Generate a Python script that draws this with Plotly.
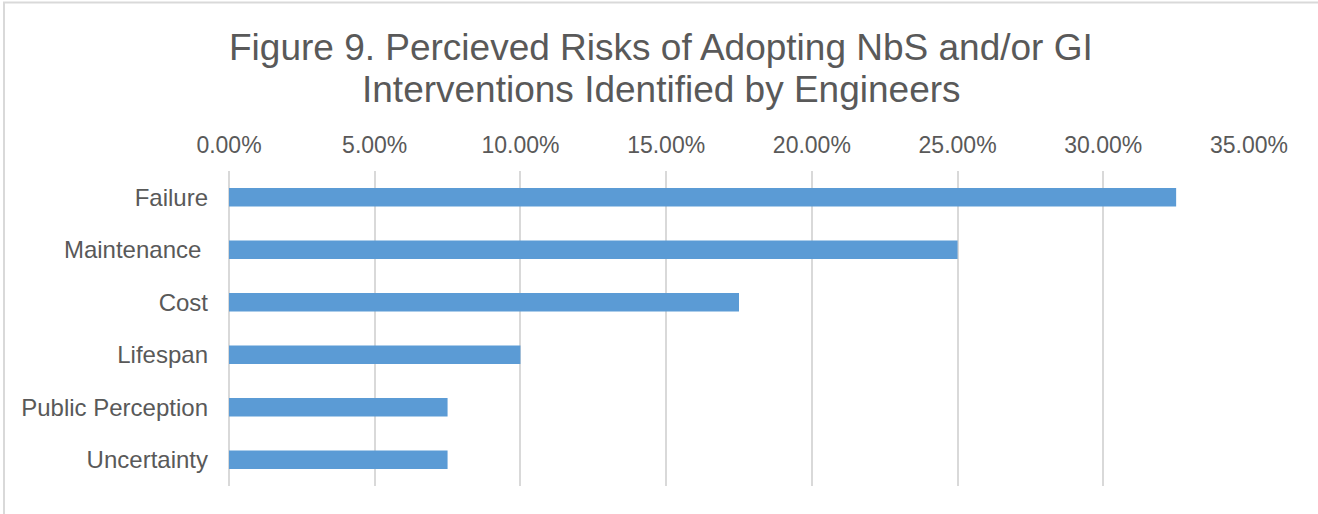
import plotly.graph_objects as go

# Risk categories, top to bottom, and share of engineers naming each
categories = ["Failure", "Maintenance\u00a0", "Cost", "Lifespan", "Public Perception", "Uncertainty"]
shares = [0.325, 0.25, 0.175, 0.10, 0.075, 0.075]
tick_values = [0.0, 0.05, 0.10, 0.15, 0.20, 0.25, 0.30, 0.35]
title_lines = [
    "Figure 9. Percieved Risks of Adopting NbS and/or GI",
    "Interventions Identified by Engineers",
]

W, H = 1318, 514
ML, MR, MT, MB = 229, 69, 171, 28
PW, PH = W - ML - MR, H - MT - MB

def px_x(p):
    return (p - ML) / PW

def px_y(p):
    return (H - MB - p) / PH

TEXT = "#595959"
GRID = "#D9D9D9"
BAR = "#5B9BD5"

fig = go.Figure(
    go.Bar(
        x=shares,
        y=categories,
        orientation="h",
        marker=dict(color=BAR, line=dict(width=0)),
        hoverinfo="x+y",
    )
)

# Two-line heading, each line placed on its own for tighter leading
title_y = [47, 89]
annotations = [
    dict(
        text=line,
        xref="paper",
        yref="paper",
        x=px_x(W / 2 + 2),
        y=px_y(yc),
        xanchor="center",
        yanchor="middle",
        showarrow=False,
        font=dict(size=37, color=TEXT),
    )
    for line, yc in zip(title_lines, title_y)
]

fig.update_layout(
    width=W,
    height=H,
    margin=dict(l=ML, r=MR, t=MT, b=MB, pad=0),
    paper_bgcolor="white",
    plot_bgcolor="white",
    bargap=0.65,
    showlegend=False,
    font=dict(family="Liberation Sans, Arial, sans-serif", color=TEXT, size=23),
    annotations=annotations,
    xaxis=dict(
        side="top",
        range=[0, 0.35],
        tickvals=tick_values,
        tickformat=".2%",
        showgrid=True,
        gridcolor=GRID,
        gridwidth=1.5,
        zeroline=True,
        zerolinecolor=GRID,
        zerolinewidth=1.5,
        showline=False,
        ticks="",
        ticklabelstandoff=12,
        tickfont=dict(size=23, color=TEXT),
    ),
    yaxis=dict(
        categoryorder="array",
        categoryarray=categories,
        autorange="reversed",
        showgrid=False,
        zeroline=False,
        showline=False,
        ticks="",
        ticklabelstandoff=20,
        tickfont=dict(size=24, color=TEXT),
    ),
    shapes=[
        dict(
            type="rect",
            xref="paper",
            yref="paper",
            x0=px_x(4),
            x1=px_x(W + 20),
            y0=px_y(H + 20),
            y1=px_y(2.5),
            line=dict(color=GRID, width=2),
            fillcolor="rgba(0,0,0,0)",
            layer="below",
        )
    ],
)

fig.write_html("out.html")
